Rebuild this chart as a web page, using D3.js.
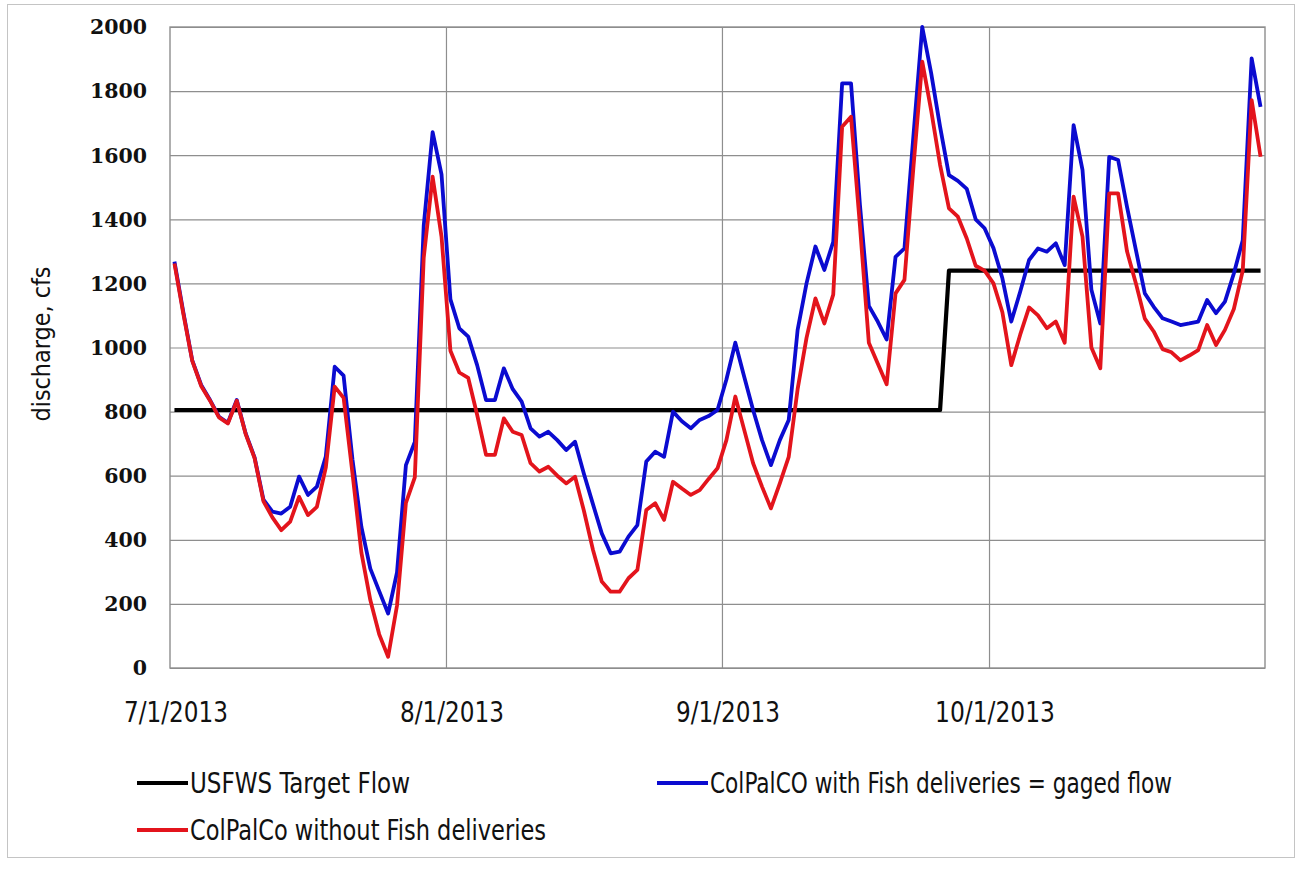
<!DOCTYPE html>
<html>
<head>
<meta charset="utf-8">
<title>Discharge, July–October 2013</title>
<script src="https://cdn.jsdelivr.net/npm/d3@7"></script>
<style>
  html, body { margin: 0; padding: 0; background: #ffffff; }
  svg { display: block; }
</style>
</head>
<body>
<svg id="chart" width="1297" height="869"></svg>
<script>
// ---- data -----------------------------------------------------------------
// Daily discharge (cfs), one value per day from 7/1/2013 through 10/31/2013.
const firstDay = "7/1/2013";
const lastDay = "10/31/2013";

// ColPalCO with Fish deliveries = gaged flow
const withFishDeliveries = [
  1268, 1110, 960, 883, 836, 784, 765, 836, 732, 657,
  525, 488, 482, 503, 597, 540, 566, 660, 940, 912,
  650, 440, 310, 240, 170, 298, 633, 705, 1380, 1672,
  1540, 1150, 1060, 1034, 945, 836, 836, 935, 870, 831,
  748, 722, 737, 711, 680, 706, 605, 512, 420, 358,
  363, 410, 446, 644, 675, 659, 800, 770, 748, 774,
  786, 805, 900, 1015, 909, 805, 711, 633, 711, 774,
  1055, 1200, 1315, 1242, 1330, 1824, 1824, 1445, 1130, 1081,
  1025, 1283, 1309, 1658, 2000, 1856, 1689, 1538, 1520, 1495,
  1400, 1372, 1310, 1216, 1081, 1174, 1273, 1309, 1299, 1325,
  1257, 1694, 1554, 1180, 1075, 1595, 1585, 1439, 1304, 1169,
  1127, 1091, 1081, 1070, 1075, 1081, 1148, 1107, 1143, 1231,
  1335, 1902, 1751
];

// ColPalCo without Fish deliveries
const withoutFishDeliveries = [
  1262, 1105, 958, 880, 834, 782, 763, 834, 730, 655,
  520, 470, 430, 457, 534, 477, 503, 625, 878, 843,
  607, 360, 212, 105, 35, 195, 515, 595, 1280, 1533,
  1346, 990, 922, 905, 790, 665, 665, 779, 737, 727,
  639, 613, 628, 600, 576, 597, 490, 370, 270, 238,
  238, 280, 306, 493, 514, 462, 581, 560, 540, 555,
  590, 623, 711, 847, 743, 639, 566, 498, 576, 659,
  870, 1030, 1153, 1075, 1165, 1689, 1720, 1380, 1015, 950,
  885, 1169, 1211, 1560, 1892, 1740, 1570, 1434, 1408, 1340,
  1255, 1240, 1200, 1110, 945, 1040, 1125, 1100, 1060, 1081,
  1015, 1471, 1346, 1000, 935, 1481, 1481, 1300, 1200, 1090,
  1050, 995, 985, 960, 975, 992, 1070, 1008, 1055, 1120,
  1240, 1772, 1595
];

// USFWS Target Flow: constant levels over date ranges
const targetPeriodStarts = ["7/1/2013", "9/26/2013"];
const targetPeriodEnds   = ["9/25/2013", "10/31/2013"];
const targetPeriodFlows  = [805, 1240];

// Axis ticks
const xTickLabels = ["7/1/2013", "8/1/2013", "9/1/2013", "10/1/2013"];
const yTickValues = [0, 200, 400, 600, 800, 1000, 1200, 1400, 1600, 1800, 2000];

const seriesNames = [
  "USFWS Target Flow",
  "ColPalCO with Fish deliveries = gaged flow",
  "ColPalCo without Fish deliveries"
];
const seriesColors = ["#000000", "#0b0bd0", "#e3141c"];

// ---- helpers ---------------------------------------------------------------
const parseDate = d3.timeParse("%m/%d/%Y");
const noon = d => d3.timeHour.offset(d, 12);

const days = d3.timeDay.range(parseDate(firstDay), d3.timeDay.offset(parseDate(lastDay), 1));

const targetFlow = days.map(day => {
  for (let i = 0; i < targetPeriodFlows.length; i++) {
    const s = parseDate(targetPeriodStarts[i]);
    const e = parseDate(targetPeriodEnds[i]);
    if (day >= s && day <= e) return targetPeriodFlows[i];
  }
  return null;
});

const toPoints = values => values.map((v, i) => ({ date: noon(days[i]), value: v }));

// ---- layout ---------------------------------------------------------------
const svg = d3.select("#chart");
const plot = { left: 170, right: 1265, top: 27, bottom: 668 };

// outer chart frame
svg.append("rect")
  .attr("x", 7.5).attr("y", 4.5)
  .attr("width", 1287).attr("height", 853)
  .attr("fill", "#ffffff")
  .attr("stroke", "#c4c4c4")
  .attr("stroke-width", 1);

const x = d3.scaleTime()
  .domain([parseDate(firstDay), d3.timeDay.offset(parseDate(lastDay), 1)])
  .range([plot.left, plot.right]);

const y = d3.scaleLinear()
  .domain([0, 2000])
  .range([plot.bottom, plot.top]);

// horizontal gridlines
const yAxis = d3.axisLeft(y)
  .tickValues(yTickValues)
  .tickSize(-(plot.right - plot.left))
  .tickFormat("");
const gy = svg.append("g")
  .attr("transform", `translate(${plot.left},0)`)
  .call(yAxis);
gy.select(".domain").remove();
gy.selectAll(".tick line").attr("stroke", "#8e8e8e").attr("stroke-width", 1.2);

// vertical gridlines at month starts
const xTickDates = xTickLabels.map(parseDate);
const xAxis = d3.axisBottom(x)
  .tickValues(xTickDates.slice(1))
  .tickSize(-(plot.bottom - plot.top))
  .tickFormat("");
const gx = svg.append("g")
  .attr("transform", `translate(0,${plot.bottom})`)
  .call(xAxis);
gx.select(".domain").remove();
gx.selectAll(".tick line").attr("stroke", "#8e8e8e").attr("stroke-width", 1.2);

// plot border
svg.append("rect")
  .attr("x", plot.left).attr("y", plot.top)
  .attr("width", plot.right - plot.left)
  .attr("height", plot.bottom - plot.top)
  .attr("fill", "none")
  .attr("stroke", "#8e8e8e")
  .attr("stroke-width", 1.4);

// y tick labels
svg.append("g").selectAll("text")
  .data(yTickValues)
  .join("text")
  .attr("x", 147)
  .attr("y", d => y(d))
  .attr("dy", "0.36em")
  .attr("text-anchor", "end")
  .attr("font-family", "'DejaVu Serif', serif")
  .attr("font-weight", "bold")
  .attr("font-size", 20.5)
  .attr("fill", "#111")
  .text(d => d);

// x tick labels
const narrow = "'Liberation Sans Narrow', 'DejaVu Sans Condensed', 'Arial Narrow', sans-serif";
svg.append("g").selectAll("text")
  .data(xTickLabels)
  .join("text")
  .attr("x", d => x(parseDate(d)) + 6)
  .attr("y", 722)
  .attr("text-anchor", "middle")
  .attr("font-family", narrow)
  .attr("font-size", 28)
  .attr("fill", "#111")
  .attr("textLength", d => d.length > 8 ? 120 : 104)
  .attr("lengthAdjust", "spacingAndGlyphs")
  .text(d => d);

// y axis title
svg.append("text")
  .attr("transform", "translate(50,344) rotate(-90)")
  .attr("text-anchor", "middle")
  .attr("font-family", narrow)
  .attr("font-size", 25)
  .attr("fill", "#111")
  .attr("textLength", 155)
  .attr("lengthAdjust", "spacingAndGlyphs")
  .text("discharge, cfs");

// ---- series ----------------------------------------------------------------
const line = d3.line()
  .defined(d => d.value != null)
  .x(d => x(d.date))
  .y(d => y(d.value));

const seriesData = [toPoints(targetFlow), toPoints(withFishDeliveries), toPoints(withoutFishDeliveries)];
const seriesWidths = [4.2, 3.8, 3.8];

svg.append("g").selectAll("path")
  .data(seriesData)
  .join("path")
  .attr("d", line)
  .attr("fill", "none")
  .attr("stroke", (d, i) => seriesColors[i])
  .attr("stroke-width", (d, i) => seriesWidths[i])
  .attr("stroke-linejoin", "round")
  .attr("stroke-linecap", "butt");

// ---- legend ----------------------------------------------------------------
const legendItems = [
  { x: 137, y: 783, len: 220 },
  { x: 657, y: 783, len: 462 },
  { x: 137, y: 830, len: 356 }
];
const legend = svg.append("g").selectAll("g")
  .data(legendItems)
  .join("g")
  .attr("transform", d => `translate(${d.x},${d.y})`);

legend.append("line")
  .attr("x1", 0).attr("x2", 51)
  .attr("y1", 0).attr("y2", 0)
  .attr("stroke", (d, i) => seriesColors[i])
  .attr("stroke-width", 4);

legend.append("text")
  .attr("x", 53)
  .attr("y", 0)
  .attr("dy", "0.36em")
  .attr("font-family", narrow)
  .attr("font-size", 28)
  .attr("fill", "#111")
  .attr("textLength", d => d.len)
  .attr("lengthAdjust", "spacingAndGlyphs")
  .text((d, i) => seriesNames[i]);
</script>
</body>
</html>
